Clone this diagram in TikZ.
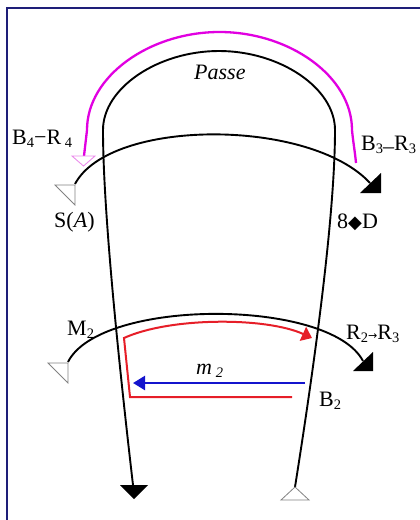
\documentclass[tikz,border=0pt]{standalone}
\usepackage{fontspec}
\setmainfont{Liberation Serif}
\newfontfamily\symfont{DejaVu Sans}
\usetikzlibrary{arrows.meta}
\definecolor{framecol}{RGB}{30,30,120}
\definecolor{magcol}{RGB}{225,0,225}
\definecolor{magtri}{RGB}{235,140,235}
\definecolor{redcol}{RGB}{230,30,40}
\definecolor{bluecol}{RGB}{20,20,205}
\definecolor{opengray}{RGB}{130,130,130}
\newcommand{\sbx}[1]{\raisebox{-0.35ex}{\fontsize{14.5}{14.5}\selectfont #1}}
\begin{document}
\begin{tikzpicture}[x=1pt,y=-1pt,
  curve/.style={line width=1.9pt, draw=black},
  opentri/.style={draw=opengray, line width=0.8pt, fill=white, line join=miter},
  filltri/.style={fill=black},
  lbl/.style={inner sep=0pt, anchor=base west, font=\fontsize{22}{26}\selectfont},
]
\useasboundingbox (0,0) rectangle (420,520);
\draw[framecol, line width=2.8pt] (7,522) -- (7,8) -- (422,8);

% named points
\coordinate (LL) at (133,485);
\coordinate (TL) at (103,130);
\coordinate (TT) at (219,51);
\coordinate (TR) at (335,130);
\coordinate (RR) at (295,487);
\coordinate (MG1) at (84,156);
\coordinate (MGa) at (87,130);
\coordinate (MGt) at (219.5,32);
\coordinate (MGb) at (352,130);
\coordinate (MG2) at (356,163);
\coordinate (UA1) at (75,184);
\coordinate (UA2) at (370,183);
\coordinate (LA1) at (68,362);
\coordinate (LA2) at (363,361);
\coordinate (R0) at (292,397);
\coordinate (R1) at (130,397);
\coordinate (R2) at (124,338);
\coordinate (R3) at (312,338);
\coordinate (B0) at (305,383);
\coordinate (B1) at (133,383);

% magenta arc
\draw[magcol, line width=2.3pt] (MG1) .. controls (85,147) and (86,139) .. (MGa)
  .. controls (87,76) and (150,32) .. (MGt)
  .. controls (289,32) and (352,76) .. (MGb)
  .. controls (353,141) and (355,152) .. (MG2);
\draw[draw=magtri, line width=0.9pt, fill=white] (72,156) -- (95,156) -- (83.5,166) -- cycle;

% main loop
\draw[curve] (LL) .. controls (115,330) and (103,200) .. (TL)
  .. controls (103,88) and (158,51) .. (TT)
  .. controls (280,51) and (335,88) .. (TR)
  .. controls (335,220) and (312,380) .. (RR);
\fill[filltri] (120,485) -- (148,485) -- (134,499) -- cycle;
\draw[opentri] (295,487) -- (281,500) -- (309,500) -- cycle;

% upper arc
\draw[curve] (UA1) .. controls (110,118) and (310,118) .. (UA2);
\draw[opentri] (55,185) -- (75,185) -- (75,205) -- cycle;
\fill[filltri] (360,193) -- (381,193) -- (381,173) -- cycle;

% lower arc
\draw[curve] (LA1) .. controls (100,298) and (330,298) .. (LA2);
\draw[opentri] (48,363) -- (68,363) -- (68,383) -- cycle;
\fill[filltri] (353,371) -- (373,371) -- (373,352) -- cycle;

% red path
\draw[redcol, line width=2pt, line join=miter, -{Triangle[length=10pt,width=15pt]}]
  (R0) -- (R1) -- (R2) .. controls (170,317) and (266,317) .. (R3);
% blue arrow
\draw[bluecol, line width=2.3pt, -{Triangle[length=12pt,width=14pt]}] (B0) -- (B1);

% labels
\node[lbl] (passe) at (194,79) {\textit{Passe}};
\node[lbl] (b4) at (12,144) {B\sbx{4}−R\,\sbx{4}};
\node[lbl] (b3) at (361,150) {B\sbx{3}\raisebox{-0.35ex}{–}R\sbx{3}};
\node[lbl] (sa) at (54,227) {S(\textit{A})};
\node[lbl] (sd) at (337,228) {8{\symfont\fontsize{18}{18}\selectfont ◆}D};
\node[lbl] (m2big) at (67,335) {M\sbx{2}};
\node[lbl] (r2r3) at (346,339) {R\sbx{2}{\symfont\fontsize{11}{11}\selectfont →}R\sbx{3}};
\node[lbl] (m2) at (196,374) {\textit{m}\,\sbx{\textit{2}}};
\node[lbl] (b2) at (319,406) {B\sbx{2}};
\end{tikzpicture}
\end{document}
